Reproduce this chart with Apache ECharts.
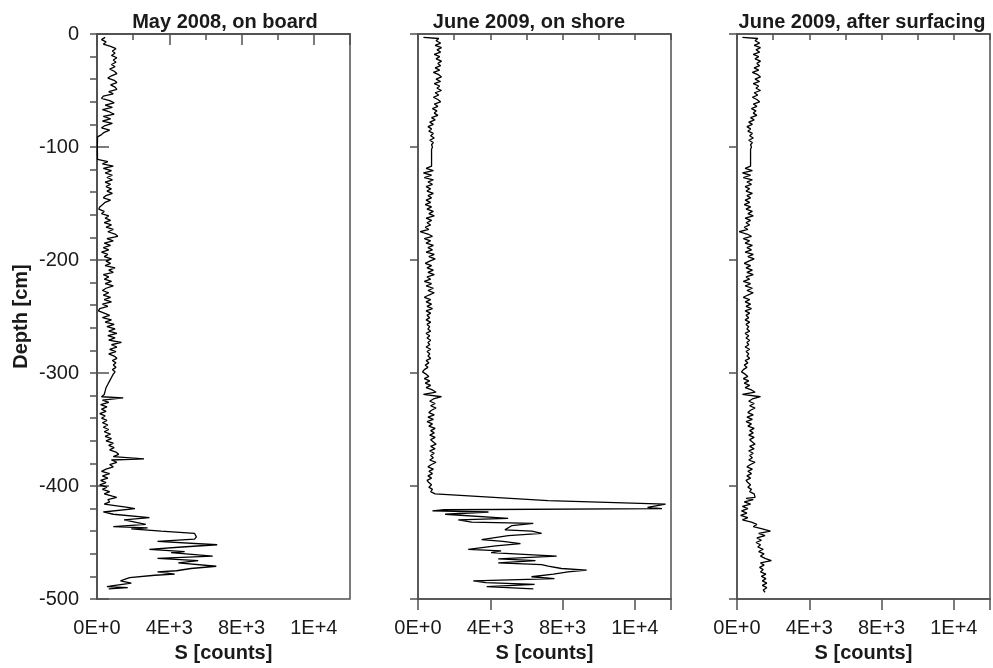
<!DOCTYPE html>
<html>
<head>
<meta charset="utf-8">
<script src="https://cdn.jsdelivr.net/npm/echarts@6/dist/echarts.min.js"></script>
<style>
html,body{margin:0;padding:0;background:#fff;}
#chart{width:993px;height:668px;}
</style>
</head>
<body>
<div id="chart"></div>
<script>
// ---- DATA: [S counts, depth cm] ----
const panelTitles = ["May 2008, on board", "June 2009, on shore", "June 2009, after surfacing"];
const xTickValues = [0, 4000, 8000, 12000];
const yTickValues = [0, -100, -200, -300, -400, -500];

const may2008 = [
  [450,-3],[250,-5],[500,-7],[350,-9],
  [750,-11],[1050,-13],[850,-15],[1000,-17],[800,-19],[1100,-21],[900,-23],[1050,-25],[800,-27],[1000,-29],
  [700,-31],[950,-33],[1100,-35],[800,-37],[600,-39],[950,-41],[1100,-43],[750,-45],[1000,-47],[1100,-49],
  [650,-51],[900,-53],[350,-55],[250,-57],[700,-59],[950,-61],[450,-63],[850,-65],[300,-67],[700,-69],
  [950,-71],[350,-73],[750,-75],[300,-77],[850,-79],[450,-81],[250,-83],[700,-85],[400,-87],[250,-89],
  [30,-91],[20,-100],[30,-111],[600,-113],[300,-115],[900,-117],[350,-119],[800,-121],[450,-123],[850,-125],
  [550,-127],[850,-129],[450,-131],[750,-133],[500,-135],[800,-137],[550,-139],[850,-141],[500,-143],[350,-145],
  [750,-147],[450,-149],[300,-151],[150,-153],[100,-155],[400,-157],[250,-159],[650,-161],[450,-163],[750,-165],
  [400,-167],[800,-169],[500,-171],[900,-173],[600,-175],[1000,-177],[1150,-179],[550,-181],[900,-183],[400,-185],
  [750,-187],[350,-189],[650,-191],[250,-193],[600,-195],[400,-197],[800,-199],[500,-201],[750,-203],[450,-205],
  [1000,-207],[650,-209],[900,-211],[350,-213],[650,-215],[400,-217],[800,-219],[450,-221],[900,-223],[500,-225],
  [300,-227],[650,-229],[350,-231],[750,-233],[400,-235],[800,-237],[300,-239],[600,-241],[150,-243],[80,-245],
  [400,-247],[700,-249],[300,-251],[800,-253],[450,-255],[950,-257],[550,-259],[1000,-261],[650,-263],[1100,-265],
  [600,-267],[1000,-269],[650,-271],[1350,-273],[800,-275],[1100,-277],[700,-279],[1050,-281],[650,-283],[950,-285],
  [1100,-287],[850,-289],[1050,-291],[900,-293],[1050,-295],[850,-297],[1000,-299],[900,-301],[800,-304],[700,-307],
  [600,-310],[500,-313],[450,-316],[400,-319],[250,-321],[1450,-322],[300,-324],[650,-326],[200,-328],[550,-330],
  [250,-332],[500,-334],[150,-336],[450,-338],[250,-340],[550,-342],[300,-344],[600,-346],[350,-348],[650,-350],
  [400,-352],[750,-354],[450,-356],[800,-358],[500,-360],[900,-362],[650,-364],[950,-366],[700,-368],[1050,-370],
  [1200,-372],[900,-374],[2600,-376],[800,-377],[1100,-379],[700,-381],[900,-383],[500,-385],[250,-387],[700,-389],
  [300,-391],[600,-393],[200,-395],[500,-397],[150,-399],[550,-401],[300,-403],[700,-405],[400,-407],[850,-409],
  [1090,-410],[600,-412],[700,-414],[400,-416],[1700,-419],[2100,-420],[350,-423],[900,-425],[2900,-428],[1500,-430],
  [2100,-432],[2700,-434],[900,-436],[2800,-437],[1900,-438],[3550,-440],[5400,-442],[5500,-445],[5400,-447],[3350,-449],
  [6650,-452],[4700,-454],[2900,-456],[4850,-458],[4100,-459],[6400,-462],[3350,-464],[5600,-466],[4500,-468],[6600,-471],
  [5200,-473],[4400,-475],[3350,-476],[4300,-478],[3200,-479],[1800,-481],[1300,-484],[1900,-486],[1000,-488],[550,-489],
  [1700,-490],[650,-491]
];

// upper part, identical in both June 2009 profiles
const june2009Upper = [
  [300,-3],[1150,-4],[1000,-6],[1250,-8],[950,-10],[1300,-12],[1050,-14],[1250,-16],[900,-18],[1200,-20],
  [1000,-22],[1300,-24],[1100,-26],[1250,-28],[950,-30],[1200,-32],[850,-34],[1150,-36],[1300,-38],[1000,-40],
  [1250,-42],[900,-44],[1200,-46],[1050,-48],[1300,-50],[950,-52],[1150,-54],[850,-56],[1100,-58],[1250,-60],
  [900,-62],[1100,-64],[800,-66],[1050,-68],[900,-70],[1100,-72],[750,-74],[950,-76],[650,-78],[850,-80],
  [550,-82],[750,-84],[600,-86],[850,-88],[700,-90],[900,-92],[650,-94],[850,-96],[750,-98],[800,-100],
  [750,-102],[750,-117],[450,-119],[850,-121],[300,-123],[750,-125],[350,-127],[850,-129],[550,-131],[800,-133],
  [450,-135],[700,-137],[500,-139],[850,-141],[550,-143],[750,-145],[450,-147],[700,-149],[400,-151],[750,-153],
  [500,-155],[850,-157],[600,-159],[900,-161],[450,-163],[750,-165],[500,-167],[700,-169],[400,-171],[600,-173],
  [120,-175],[550,-177],[800,-179],[350,-181],[700,-183],[450,-185],[850,-187],[550,-189],[800,-191],[450,-193],
  [900,-195],[600,-197],[950,-199],[650,-201],[400,-203],[750,-205],[500,-207],[850,-209],[550,-211],[900,-213],
  [500,-215],[700,-217],[350,-219],[750,-221],[450,-223],[850,-225],[550,-227],[900,-229],[600,-231],[350,-233],
  [700,-235],[450,-237],[750,-239],[500,-241],[800,-243],[450,-245],[700,-247],[500,-249],[650,-251],[450,-253],
  [700,-255],[500,-257],[650,-259],[550,-261],[700,-263],[450,-265],[650,-267],[500,-269],[700,-271],[550,-273],
  [650,-275],[450,-277],[700,-279],[500,-281],[650,-283],[550,-285],[700,-287],[450,-289],[600,-291],[400,-293],
  [550,-295],[350,-297],[250,-299],[450,-301],[600,-303],[350,-305],[650,-307],[400,-309],[700,-311],[450,-313],
  [800,-315],[1000,-317],[300,-319],[1300,-321],[850,-323],[650,-325],[950,-327],[700,-329],[1000,-331],[750,-333],
  [600,-335],[900,-337],[550,-339],[850,-341],[500,-343],[800,-345],[600,-347],[950,-349],[700,-351],[900,-353],
  [650,-355],[950,-357],[700,-359],[850,-361],[1000,-363],[700,-365],[950,-367],[650,-369],[900,-371],[700,-373],
  [850,-375],[650,-377],[1000,-379],[750,-381],[550,-383],[850,-385],[600,-387],[800,-389],[550,-391],[750,-393],
  [500,-395],[600,-397],[750,-399],[600,-401],[800,-403],[700,-405],[950,-407]
];

const shoreLower = [
  [7200,-413],[13700,-416],[12700,-419],[13500,-420],[1450,-421],[800,-422],[3900,-423],[1500,-425],[4990,-428.6],[2230,-430],
  [2970,-432],[6380,-433],[5200,-435],[4810,-438.8],[6300,-440],[6840,-442],[5000,-444],[3520,-447.5],[4700,-449],[5670,-451],
  [4300,-453],[2780,-456],[4600,-457.5],[4050,-459],[7670,-462],[4440,-464.5],[6500,-466],[4440,-468],[6840,-469.5],[7200,-471],
  [7940,-473],[9330,-474.5],[8300,-476],[7500,-478],[6280,-480.3],[7550,-482],[3060,-484],[3750,-485.5],[6450,-487],[3800,-489],
  [6380,-491]
];

const surfacedLower = [
  [1000,-410],[500,-411],[900,-412],[400,-414],[750,-416],[300,-418],[600,-420],[250,-422],[550,-424],[200,-426],
  [600,-428],[300,-430],[800,-432],[1100,-434],[900,-436],[1400,-438],[1850,-440],[1200,-442],[1550,-444],[1100,-446],
  [1350,-448],[1050,-450],[1300,-452],[1150,-454],[1450,-456],[1200,-458],[1500,-460],[1300,-462],[1550,-464],[1900,-466],
  [1300,-468],[1500,-470],[1250,-472],[1450,-474],[1300,-476],[1600,-478],[1350,-480],[1600,-482],[1400,-484],[1650,-486],
  [1400,-488],[1650,-490],[1450,-492],[1550,-494]
];

const june2009Shore = june2009Upper.concat(shoreLower);
const june2009Surfaced = june2009Upper.concat(surfacedLower);
const profiles = [may2008, june2009Shore, june2009Surfaced];

// ---- LAYOUT ----
const gridLefts = [97, 418, 737];
const gridWidth = 253;
const gridTop = 34;
const gridHeight = 569;
const axisColor = '#505050';
const textColor = '#1a1a1a';
const fontFam = '"Liberation Sans", Arial, Helvetica, sans-serif';

function sci(v) {
  if (v === 0) return '0E+0';
  const e = Math.floor(Math.log10(Math.abs(v)) + 1e-9);
  const m = Math.round(v / Math.pow(10, e));
  return m + 'E+' + e;
}

const grids = [], xAxes = [], yAxes = [], series = [], graphics = [];
const titleCenters = [225, 529, 862];

for (let i = 0; i < 3; i++) {
  grids.push({ left: gridLefts[i], top: gridTop, width: gridWidth, height: gridHeight,
    show: true, borderColor: axisColor, borderWidth: 1.5, backgroundColor: 'transparent' });
  xAxes.push({
    type: 'value', gridIndex: i, min: 0, max: 14000, interval: 2000, position: 'bottom',
    axisLine: { show: true, lineStyle: { color: axisColor, width: 1.5 } },
    axisTick: { show: true, length: 6, lineStyle: { color: axisColor, width: 1.5 } },
    splitLine: { show: false },
    axisLabel: { show: true, margin: 19, color: textColor, fontSize: 20, fontFamily: fontFam,
      formatter: v => (xTickValues.indexOf(v) >= 0 ? sci(v) : '') }
  });
  xAxes.push({
    type: 'value', gridIndex: i, min: 0, max: 14000, interval: 4000, position: 'bottom',
    name: 'S [counts]', nameLocation: 'middle', nameGap: 44,
    nameTextStyle: { color: textColor, fontSize: 20, fontWeight: 'bold', fontFamily: fontFam },
    axisLine: { show: true, lineStyle: { color: axisColor, width: 1.5 } },
    axisTick: { show: true, length: 11, lineStyle: { color: axisColor, width: 1.5 } },
    splitLine: { show: false }, axisLabel: { show: false }
  });
  if (i === 0) {
    yAxes.push({
      type: 'value', gridIndex: i, min: -500, max: 0, interval: 20,
      name: 'Depth [cm]', nameLocation: 'middle', nameGap: 66,
      nameTextStyle: { color: textColor, fontSize: 20, fontWeight: 'bold', fontFamily: fontFam },
      axisLine: { show: true, lineStyle: { color: axisColor, width: 1.5 } },
      axisTick: { show: true, length: 7, lineStyle: { color: axisColor, width: 1.5 } },
      splitLine: { show: false },
      axisLabel: { show: true, margin: 18, color: textColor, fontSize: 20, fontFamily: fontFam,
        formatter: v => (yTickValues.indexOf(v) >= 0 ? String(v) : '') }
    });
    yAxes.push({
      type: 'value', gridIndex: i, min: -500, max: 0, interval: 100,
      axisLine: { show: true, lineStyle: { color: axisColor, width: 1.5 } },
      axisTick: { show: true, length: 12, lineStyle: { color: axisColor, width: 1.5 } },
      splitLine: { show: false }, axisLabel: { show: false }
    });
  } else {
    yAxes.push({
      type: 'value', gridIndex: i, min: -500, max: 0, interval: 100,
      axisLine: { show: true, lineStyle: { color: axisColor, width: 1.5 } },
      axisTick: { show: true, length: 8, lineStyle: { color: axisColor, width: 1.5 } },
      splitLine: { show: false }, axisLabel: { show: false }
    });
  }
  graphics.push({
    type: 'text', x: titleCenters[i], y: 12,
    style: { text: panelTitles[i], fill: textColor, font: 'bold 20px ' + fontFam,
      textAlign: 'center', textVerticalAlign: 'top', align: 'center', verticalAlign: 'top' }
  });
}

const yIndexFor = [0, 2, 3];
for (let i = 0; i < 3; i++) {
  series.push({
    type: 'line', xAxisIndex: i * 2, yAxisIndex: yIndexFor[i], data: profiles[i],
    showSymbol: false, symbol: 'none', animation: false,
    lineStyle: { color: '#000', width: 1.3 }, z: 5
  });
}

const chart = echarts.init(document.getElementById('chart'), null, { renderer: 'canvas' });
chart.setOption({
  backgroundColor: '#fff',
  animation: false,
  grid: grids, xAxis: xAxes, yAxis: yAxes, series: series, graphic: graphics
});
</script>
</body>
</html>
